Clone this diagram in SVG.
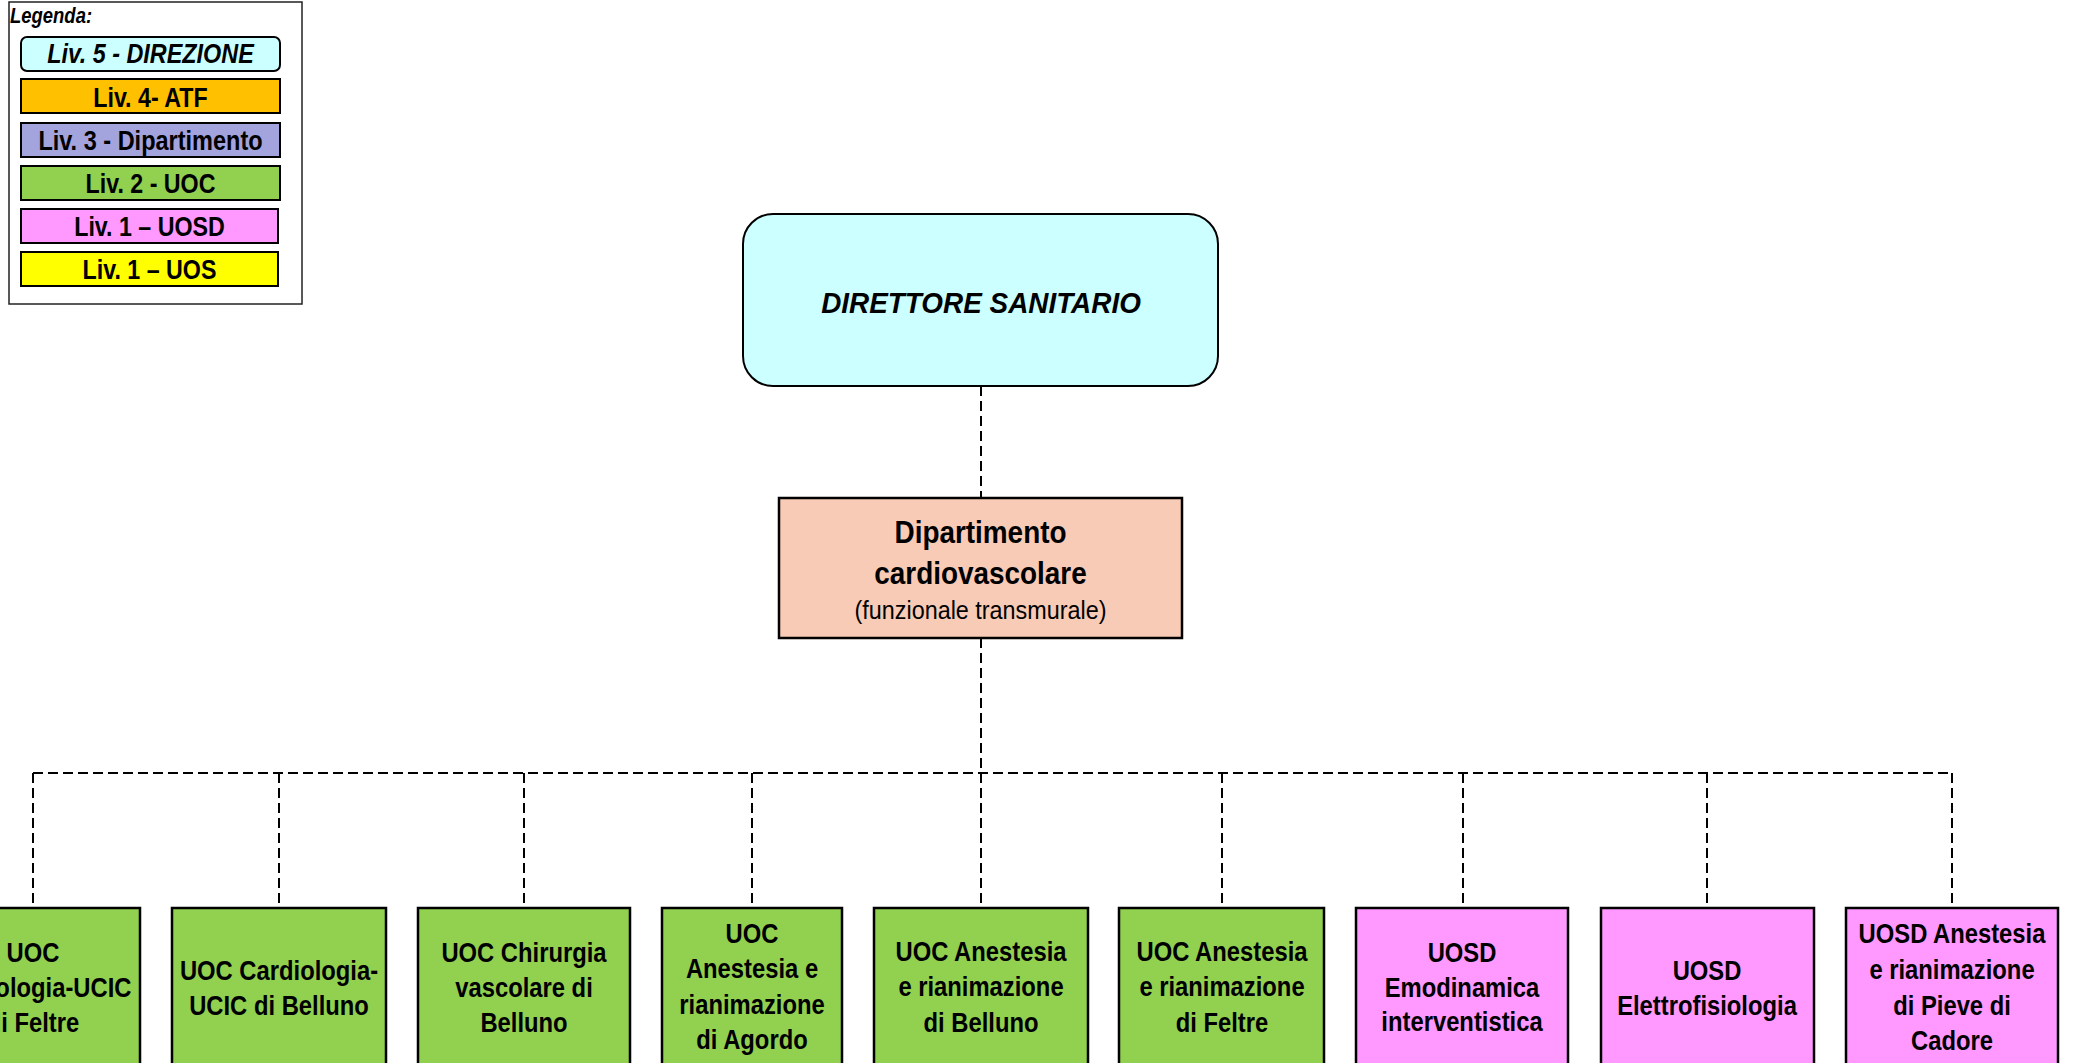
<svg xmlns="http://www.w3.org/2000/svg" width="2078" height="1063" viewBox="0 0 2078 1063">
<style>
.t{font-family:"Liberation Sans",Arial,sans-serif;font-weight:bold;font-size:28px;text-anchor:middle;fill:#000}
.bx{stroke:#000;stroke-width:2.5}
.lg{stroke:#000;stroke-width:2}
.uoc{fill:#92D050}
.uosd{fill:#FF99FF}
.c{fill:none;stroke:#000;stroke-width:2;stroke-dasharray:10 5}
</style>
<rect width="2078" height="1063" fill="#fff"/>
<g id="legend">
<rect x="9" y="2" width="293" height="302" fill="#fff" stroke="#222" stroke-width="1.5"/>
<text class="t" style="font-size:22px;font-style:italic;text-anchor:start" transform="translate(10 0) scale(0.84 1)" x="0" y="23">Legenda:</text>
<rect class="lg" x="21" y="37" width="259" height="34" rx="6" fill="#CCFFFF"/>
<text class="t" style="font-style:italic" transform="translate(150.5 0) scale(0.835 1)" x="0" y="63">Liv. 5 - DIREZIONE</text>
<rect class="lg" x="21" y="79" width="259" height="34" fill="#FFC000"/>
<text class="t" transform="translate(150.5 0) scale(0.83 1)" x="0" y="107">Liv. 4- ATF</text>
<rect class="lg" x="21" y="123" width="259" height="34" fill="#A3A3DE"/>
<text class="t" transform="translate(150.5 0) scale(0.84 1)" x="0" y="150">Liv. 3 - Dipartimento</text>
<rect class="lg" x="21" y="166" width="259" height="34" fill="#92D050"/>
<text class="t" transform="translate(150.5 0) scale(0.83 1)" x="0" y="193">Liv. 2 - UOC</text>
<rect class="lg" x="21" y="209" width="257" height="34" fill="#FF99FF"/>
<text class="t" transform="translate(149.5 0) scale(0.83 1)" x="0" y="236">Liv. 1 – UOSD</text>
<rect class="lg" x="21" y="252" width="257" height="34" fill="#FFFF00"/>
<text class="t" transform="translate(149.5 0) scale(0.83 1)" x="0" y="279">Liv. 1 – UOS</text>
</g>
<g id="connectors">
<path class="c" d="M981 386V498"/>
<path class="c" d="M981 638V773"/>
<path class="c" d="M33 773H1952"/>
<path class="c" d="M33 773V908M279 773V908M524 773V908M752 773V908M981 773V908M1222 773V908M1463 773V908M1707 773V908M1952 773V908"/>
</g>
<g id="direttore">
<rect x="743" y="214" width="475" height="172" rx="30" fill="#CCFFFF" stroke="#000" stroke-width="2"/>
<text class="t" style="font-style:italic;font-size:30px" transform="translate(981 0) scale(0.93 1)" x="0" y="313">DIRETTORE SANITARIO</text>
</g>
<g id="dipartimento">
<rect class="bx" x="779" y="498" width="403" height="140" fill="#F8CBB6"/>
<text class="t" style="font-size:31px" transform="translate(980.5 0) scale(0.9 1)"><tspan x="0" y="543">Dipartimento</tspan><tspan x="0" y="584">cardiovascolare</tspan></text>
<text class="t" style="font-weight:normal;font-size:25px" transform="translate(980.5 0) scale(0.935 1)" x="0" y="619">(funzionale transmurale)</text>
</g>
<g id="uoc-cardio-feltre">
<rect class="bx uoc" x="-74" y="908" width="214" height="170"/>
<text class="t" transform="translate(33 0) scale(0.85 1)"><tspan x="0" y="962">UOC</tspan><tspan x="0" y="997">Cardiologia-UCIC</tspan><tspan x="0" y="1032">di Feltre</tspan></text>
</g>
<g id="uoc-cardio-belluno">
<rect class="bx uoc" x="172" y="908" width="214" height="170"/>
<text class="t" transform="translate(279 0) scale(0.85 1)"><tspan x="0" y="980">UOC Cardiologia-</tspan><tspan x="0" y="1015">UCIC di Belluno</tspan></text>
</g>
<g id="uoc-chirurgia">
<rect class="bx uoc" x="418" y="908" width="212" height="170"/>
<text class="t" transform="translate(524 0) scale(0.85 1)"><tspan x="0" y="962">UOC Chirurgia</tspan><tspan x="0" y="997">vascolare di</tspan><tspan x="0" y="1032">Belluno</tspan></text>
</g>
<g id="uoc-anestesia-agordo">
<rect class="bx uoc" x="662" y="908" width="180" height="170"/>
<text class="t" transform="translate(752 0) scale(0.85 1)"><tspan x="0" y="943">UOC</tspan><tspan x="0" y="978.5">Anestesia e</tspan><tspan x="0" y="1014">rianimazione</tspan><tspan x="0" y="1049.5">di Agordo</tspan></text>
</g>
<g id="uoc-anestesia-belluno">
<rect class="bx uoc" x="874" y="908" width="214" height="170"/>
<text class="t" transform="translate(981 0) scale(0.85 1)"><tspan x="0" y="961">UOC Anestesia</tspan><tspan x="0" y="996.5">e rianimazione</tspan><tspan x="0" y="1032">di Belluno</tspan></text>
</g>
<g id="uoc-anestesia-feltre">
<rect class="bx uoc" x="1119" y="908" width="205" height="170"/>
<text class="t" transform="translate(1222 0) scale(0.85 1)"><tspan x="0" y="961">UOC Anestesia</tspan><tspan x="0" y="996.5">e rianimazione</tspan><tspan x="0" y="1032">di Feltre</tspan></text>
</g>
<g id="uosd-emodinamica">
<rect class="bx uosd" x="1356" y="908" width="212" height="170"/>
<text class="t" transform="translate(1462 0) scale(0.85 1)"><tspan x="0" y="962">UOSD</tspan><tspan x="0" y="997">Emodinamica</tspan><tspan x="0" y="1031">interventistica</tspan></text>
</g>
<g id="uosd-elettrofisiologia">
<rect class="bx uosd" x="1601" y="908" width="213" height="170"/>
<text class="t" transform="translate(1707 0) scale(0.85 1)"><tspan x="0" y="980">UOSD</tspan><tspan x="0" y="1015">Elettrofisiologia</tspan></text>
</g>
<g id="uosd-anestesia-pieve">
<rect class="bx uosd" x="1846" y="908" width="212" height="170"/>
<text class="t" transform="translate(1952 0) scale(0.85 1)"><tspan x="0" y="943">UOSD Anestesia</tspan><tspan x="0" y="979">e rianimazione</tspan><tspan x="0" y="1015">di Pieve di</tspan><tspan x="0" y="1050">Cadore</tspan></text>
</g>
</svg>
